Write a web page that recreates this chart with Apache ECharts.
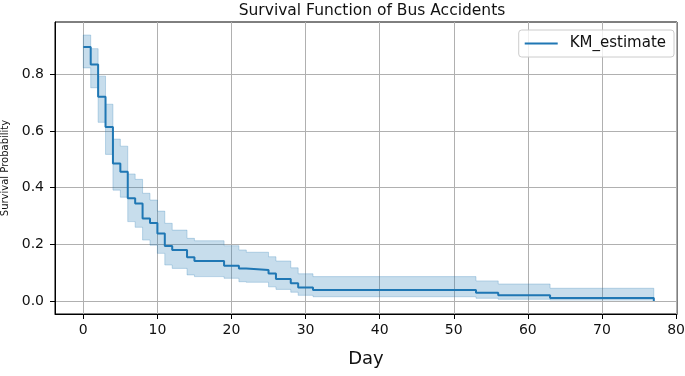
<!DOCTYPE html>
<html>
<head>
<meta charset="utf-8">
<script src="https://cdn.jsdelivr.net/npm/echarts@6/dist/echarts.min.js"></script>
<style>
    html, body { margin: 0; padding: 0; background: #fff; }
    #chart_km { width: 685px; height: 376px; }
</style>
</head>
<body>
<div id="chart_km"></div>
<script>
    //event days (step start)
    var days = [0, 1, 2, 3, 4, 5, 6, 7, 8, 9, 10, 11, 12, 14, 15, 19, 21, 22, 25, 26, 28, 29, 31, 53, 56, 63, 77];
    //KM estimate
    var survival = [0.896, 0.834, 0.72, 0.614, 0.485, 0.456, 0.362, 0.344, 0.291, 0.275, 0.238, 0.194, 0.18, 0.154, 0.141, 0.124, 0.115, 0.109, 0.097, 0.078, 0.063, 0.048, 0.039, 0.029, 0.02, 0.011, 0];
    //confidence interval
    var ciLower = [0.822, 0.752, 0.63, 0.517, 0.391, 0.366, 0.28, 0.26, 0.215, 0.197, 0.168, 0.127, 0.115, 0.092, 0.086, 0.08, 0.068, 0.066, 0.05, 0.041, 0.031, 0.02, 0.015, 0.0095, 0.006, 0.0035, 0.0035];
    var ciUpper = [0.938, 0.89, 0.793, 0.694, 0.571, 0.546, 0.448, 0.429, 0.38, 0.356, 0.317, 0.274, 0.25, 0.221, 0.2125, 0.195, 0.18, 0.172, 0.156, 0.141, 0.117, 0.096, 0.086, 0.071, 0.06, 0.045, 0.045];
    //ticks
    var xTicks = [0, 10, 20, 30, 40, 50, 60, 70, 80];
    var yTicks = [0, 0.2, 0.4, 0.6, 0.8];

    var chart_km = echarts.init(document.getElementById('chart_km'));

    var kmData = [], bandData = [];
    for (var i = 0; i < days.length; i++) {
        kmData.push([days[i], survival[i]]);
        bandData.push([days[i], ciLower[i], ciUpper[i]]);
    }

    var font = 'DejaVu Sans';

    //confidence band as one step polygon (post steps)
    var renderBand = function (params, api) {
        if (params.dataIndex !== 0) {
            return null;
        }
        var pts = [];
        var n = bandData.length;
        for (var i = 0; i < n - 1; i++) {
            pts.push(api.coord([bandData[i][0], bandData[i][2]]));
            pts.push(api.coord([bandData[i + 1][0], bandData[i][2]]));
        }
        for (var j = n - 2; j >= 0; j--) {
            pts.push(api.coord([bandData[j + 1][0], bandData[j][1]]));
            pts.push(api.coord([bandData[j][0], bandData[j][1]]));
        }
        return {
            type: 'polygon',
            shape: { points: pts },
            style: {
                fill: 'rgba(31,119,180,0.25)',
                stroke: 'rgba(31,119,180,0.25)',
                lineWidth: 1
            }
        };
    };

    var option = {
        animation: false,
        textStyle: { fontFamily: font },
        title: {
            text: 'Survival Function of Bus Accidents',
            left: 367,
            textAlign: 'center',
            top: -2,
            textStyle: { fontFamily: font, fontSize: 15.5, fontWeight: 'normal', color: '#111' }
        },
        legend: {
            right: 11,
            top: 30,
            padding: [6, 8, 6, 6],
            itemWidth: 33,
            itemHeight: 2,
            icon: 'rect',
            borderColor: '#cccccc',
            borderWidth: 1,
            borderRadius: 3,
            backgroundColor: 'rgba(255,255,255,0.8)',
            data: ['KM_estimate'],
            textStyle: { fontFamily: font, fontSize: 15, color: '#111', padding: [0, 0, 0, 7] }
        },
        grid: {
            left: 55,
            right: 8,
            top: 22,
            bottom: 62,
            outerBoundsMode: 'none',
            containLabel: false,
            show: true,
            borderColor: '#000',
            borderWidth: 1
        },
        xAxis: {
            type: 'value',
            min: -3.82,
            max: 80.13,
            splitNumber: 8,
            name: 'Day',
            nameLocation: 'middle',
            nameGap: 36,
            nameTextStyle: { fontFamily: font, fontSize: 18, color: '#111' },
            axisLine: { show: true, onZero: false, lineStyle: { color: '#000' } },
            axisTick: { show: true, length: 5, lineStyle: { color: '#000' }, customValues: xTicks },
            axisLabel: {
                margin: 9, fontSize: 14, color: '#111', fontFamily: font,
                customValues: xTicks,
                formatter: function (v) { return String(v); }
            },
            splitLine: { show: true, lineStyle: { color: '#b0b0b0', width: 1 } }
        },
        yAxis: {
            type: 'value',
            min: -0.0458,
            max: 0.9839,
            splitNumber: 5,
            name: 'Survival Probability',
            nameLocation: 'middle',
            nameGap: 42,
            nameTextStyle: { fontFamily: font, fontSize: 10, color: '#111' },
            axisLine: { show: true, onZero: false, lineStyle: { color: '#000' } },
            axisTick: { show: true, length: 5, lineStyle: { color: '#000' }, customValues: yTicks },
            axisLabel: {
                margin: 11, fontSize: 14, color: '#111', fontFamily: font,
                customValues: yTicks,
                formatter: function (v) { return v.toFixed(1); }
            },
            splitLine: { show: true, lineStyle: { color: '#b0b0b0', width: 1 } }
        },
        series: [
            {
                name: 'ci',
                type: 'custom',
                renderItem: renderBand,
                data: bandData,
                encode: { x: 0, y: [1, 2] },
                clip: true,
                silent: true,
                z: 1
            },
            {
                name: 'KM_estimate',
                type: 'line',
                step: 'end',
                symbol: 'none',
                data: kmData,
                color: '#1f77b4',
                lineStyle: { color: '#1f77b4', width: 2 },
                z: 3
            }
        ]
    };

    chart_km.setOption(option);
</script>
</body>
</html>
